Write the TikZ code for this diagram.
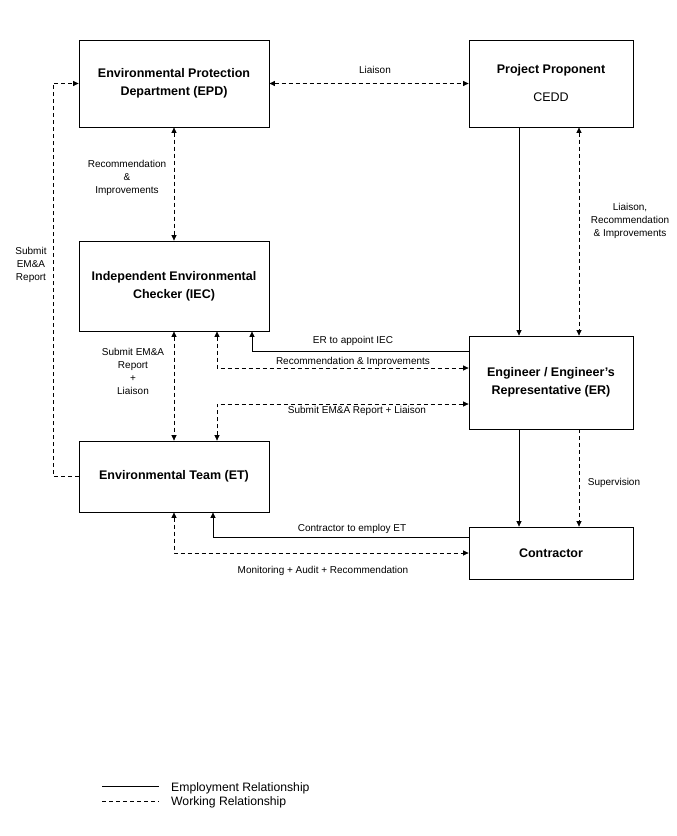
\documentclass[tikz,border=0pt]{standalone}
\usepackage{fontspec}
\setmainfont{Liberation Sans}
\usetikzlibrary{arrows.meta}
\begin{document}
\begin{tikzpicture}[x=1pt,y=-1pt,
  box/.style={draw, line width=0.8pt, align=center, inner sep=0pt,
    font=\fontsize{12.5}{18}\selectfont\bfseries},
  lbl/.style={align=center, inner sep=0pt, font=\fontsize{10}{13}\selectfont},
  leg/.style={anchor=west, inner sep=0pt, font=\fontsize{12.2}{14}\selectfont},
  work/.style={line width=0.7pt, dash pattern=on 4pt off 3pt},
  empl/.style={line width=0.7pt},
  tip/.style={-{Triangle[length=5.5pt,width=5pt]}},
  tips/.style={{Triangle[length=5.5pt,width=5pt]}-{Triangle[length=5.5pt,width=5pt]}}
]
\useasboundingbox (0,0) rectangle (677,836);

% boxes
\node[box, minimum width=190pt, minimum height=87pt] (epd) at (174,83.5)
  {Environmental Protection\\Department (EPD)};
\node[box, minimum width=164pt, minimum height=87pt] (pp) at (551,83.5)
  {Project Proponent\\[10pt]\mdseries CEDD};
\node[box, minimum width=190pt, minimum height=90pt] (iec) at (174,286)
  {Independent Environmental\\Checker (IEC)};
\node[box, minimum width=164pt, minimum height=93pt] (er) at (551,382.5)
  {Engineer / Engineer's\\Representative (ER)};
\node[box, minimum width=190pt, minimum height=71pt] (et) at (174,476.5)
  {Environmental Team (ET)};
\node[box, minimum width=164pt, minimum height=52pt] (con) at (551,553)
  {Contractor};

% helper coordinates
\coordinate (x519) at (519,0);
\coordinate (x579) at (579,0);
\coordinate (x252) at (252,0);
\coordinate (x217) at (217,0);
\coordinate (x213) at (213,0);
\coordinate (y351) at (0,351);
\coordinate (y368) at (0,368);
\coordinate (y404) at (0,404);
\coordinate (y537) at (0,537);
\coordinate (xleft) at (53,0);

% connectors
\draw[work,tips] (epd.east) -- (pp.west);
\draw[work,tips] (epd.south) -- (iec.north);
\draw[work,tip] (et.west) -| (xleft |- et.west) |- (epd.west);
\draw[empl,tip] (pp.south -| x519) -- (er.north -| x519);
\draw[work,tips] (pp.south -| x579) -- (er.north -| x579);
\draw[empl,tip] (er.west |- y351) -| (iec.south -| x252);
\draw[work,tips] (iec.south -| x217) |- (er.west |- y368);
\draw[work,tips] (iec.south) -- (et.north);
\draw[work,tips] (et.north -| x217) |- (er.west |- y404);
\draw[empl,tip] (er.south -| x519) -- (con.north -| x519);
\draw[work,tip] (er.south -| x579) -- (con.north -| x579);
\draw[empl,tip] (con.west |- y537) -| (et.south -| x213);
\draw[work,tips] (et.south) |- (con.west);

% labels
\node[lbl] (l1) at (375,70) {Liaison};
\node[lbl] (l2) at (127,178) {Recommendation\\\&\\Improvements};
\node[lbl] (l3) at (31,265) {Submit\\EM\&A\\Report};
\node[lbl] (l4) at (630,220.5) {Liaison,\\Recommendation\\\& Improvements};
\node[lbl] (l5) at (353,341) {ER to appoint IEC};
\node[lbl] (l6) at (353,362) {Recommendation \& Improvements};
\node[lbl] (l7) at (133,371.5) {Submit EM\&A\\Report\\+\\Liaison};
\node[lbl] (l8) at (357,411) {Submit EM\&A Report + Liaison};
\node[lbl] (l9) at (614,483) {Supervision};
\node[lbl] (l10) at (352,529) {Contractor to employ ET};
\node[lbl] (l11) at (323,571) {Monitoring + Audit + Recommendation};

% legend
\coordinate (la1) at (102,786);
\coordinate (la2) at (159,786);
\coordinate (lb1) at (102,801);
\coordinate (lb2) at (159,801);
\draw[empl] (la1) -- (la2);
\draw[work] (lb1) -- (lb2);
\node[leg] (lt1) at (171,788) {Employment Relationship};
\node[leg] (lt2) at (171,802) {Working Relationship};
\end{tikzpicture}
\end{document}
